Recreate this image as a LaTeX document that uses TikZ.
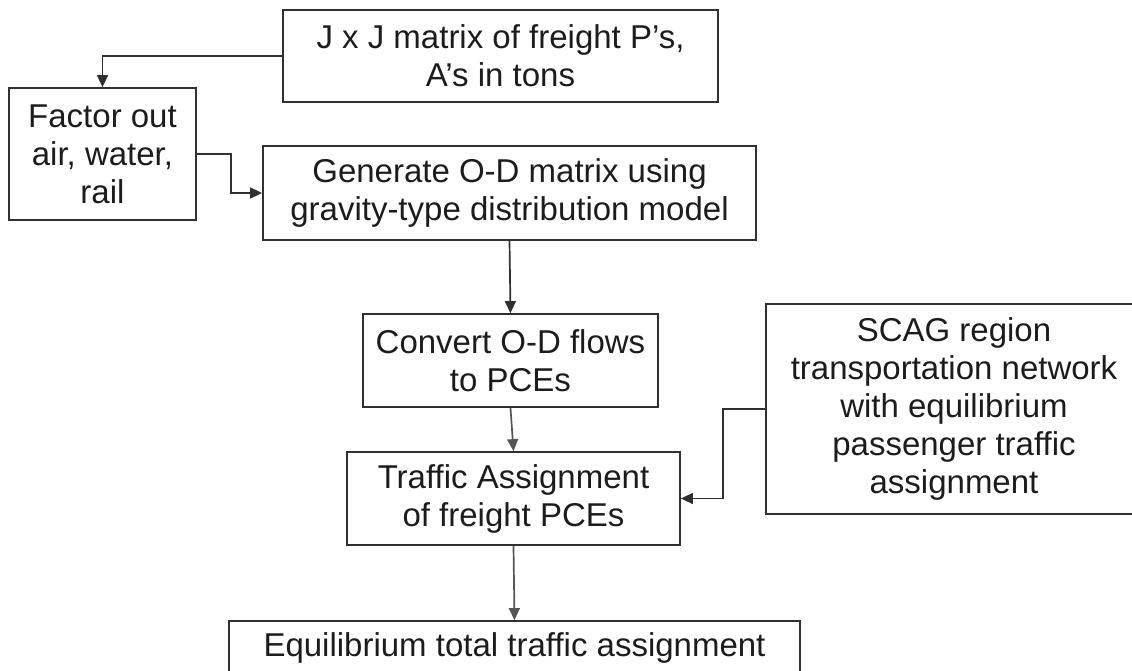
\documentclass[tikz,border=0pt]{standalone}
\usepackage{fontspec}
\setmainfont{Liberation Sans}[Ligatures=NoCommon]
\usetikzlibrary{arrows.meta}
\definecolor{ink}{HTML}{1C1C1C}
\definecolor{edge}{HTML}{303030}
\definecolor{softedge}{HTML}{555555}
\begin{document}
\begin{tikzpicture}[x=1pt,y=-1pt,
  stepbox/.style={draw=edge, line width=1.8pt, inner sep=0pt, align=center,
    text=ink, font=\fontsize{33}{38}\selectfont},
  flow/.style={draw=edge, line width=1.7pt, -{Triangle[length=12pt,width=11pt]}},
  softflow/.style={flow, draw=softedge},
]
\useasboundingbox (0,0) rectangle (1132,670);
\clip (0,0) rectangle (1132,670);

% process boxes
\node[stepbox, minimum width=435pt, minimum height=92pt] (jj) at (500.5,56)
  {J x J matrix of freight P’s,\\A’s in tons};
\node[stepbox, minimum width=187pt, minimum height=132pt] (factor) at (102.5,154)
  {Factor out\\air, water,\\rail};
\node[stepbox, minimum width=493pt, minimum height=94pt] (gen) at (509.5,193)
  {Generate O-D matrix using\\gravity-type distribution model};
\node[stepbox, minimum width=295pt, minimum height=93pt] (conv) at (510.5,360.5)
  {Convert O-D flows\\to PCEs};
\node[stepbox, minimum width=333pt, minimum height=93pt] (traf) at (513.5,498.5)
  {Traffic Assignment\\of freight PCEs};
\node[stepbox, minimum width=376pt, minimum height=210pt] (scag) at (954,409)
  {SCAG region\\transportation network\\with equilibrium\\passenger traffic\\assignment};
\node[stepbox, minimum width=571pt, text height=25pt, text depth=55pt,
  inner ysep=10pt, anchor=base] (eq) at (514.5,656)
  {Equilibrium total traffic assignment};

% connectors
\draw[flow] (jj.west) -| (factor.north);
\draw[flow] (factor.east) -- ++(34,0) |- (gen.west);
\draw[flow] (gen.south) -- (conv.north);
\draw[softflow] (conv.south) -- (traf.north);
\draw[flow] (scag.west) -- ++(-42,0) |- (traf.east);
\draw[softflow] (traf.south) -- (eq.north);
\end{tikzpicture}
\end{document}
